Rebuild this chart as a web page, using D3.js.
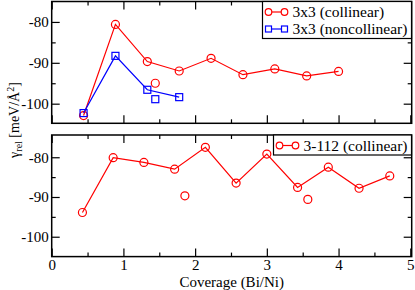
<!DOCTYPE html>
<html>
<head>
<meta charset="utf-8">
<script src="https://cdn.jsdelivr.net/npm/d3@7"></script>
<style>
  body { margin: 0; background: #fff; }
  svg text { font-family: "Liberation Serif", "Times New Roman", serif; }
  .tick line { stroke: #000; stroke-width: 1.2; }
  .domain { display: none; }
</style>
</head>
<body>
<div id="chart"></div>
<script>
// top panel, 3x3 cell
var cov3x3 = [4/9, 8/9, 12/9, 16/9, 20/9, 24/9, 28/9, 32/9, 36/9];
var col3x3 = [-102.9, -80.6, -89.7, -92.0, -88.9, -92.9, -91.5, -93.2, -92.1];
var covNc3x3 = [4/9, 8/9, 12/9, 16/9];
var nc3x3 = [-102.3, -88.3, -96.6, -98.4];
// lone points (not joined)
var loneCol3x3 = [{x: 13/9, y: -95.0}];
var loneNc3x3 = [{x: 13/9, y: -98.9}];

// bottom panel, 3-112 cell
var cov3112 = [3/7, 6/7, 9/7, 12/7, 15/7, 18/7, 21/7, 24/7, 27/7, 30/7, 33/7];
var col3112 = [-93.9, -80.1, -81.3, -83.0, -77.5, -86.5, -79.2, -87.6, -82.5, -87.8, -84.7];
var loneCol3112 = [{x: 13/7, y: -89.7}, {x: 25/7, y: -90.6}];

var xTicks = [0, 1, 2, 3, 4, 5];
var xMinor = [0.5, 1.5, 2.5, 3.5, 4.5];
var yTicks = [-100, -90, -80];
var yMinor = [-95, -85];

var W = 415, H = 290;
var left = 51.7, right = 411.7;
var RED = "#ff0000", BLUE = "#0000ff";

var svg = d3.select("#chart").append("svg")
    .attr("width", W).attr("height", H);

var x = d3.scaleLinear().domain([0, 5.02]).range([left, right]);

function zip(xs, ys) {
    return xs.map(function(v, i) { return {x: v, y: ys[i]}; });
}

function panel(top, bottom, yDomain, showXLabels) {
    var y = d3.scaleLinear().domain(yDomain).range([bottom, top]);
    var g = svg.append("g");

    // ticks on all four sides, pointing in
    g.append("g").attr("transform", "translate(0," + bottom + ")")
        .call(d3.axisBottom(x).tickValues(xTicks).tickSize(-8).tickPadding(3)
            .tickFormat(showXLabels ? d3.format("d") : ""));
    g.append("g").attr("transform", "translate(0," + bottom + ")")
        .call(d3.axisBottom(x).tickValues(xMinor).tickSize(-4).tickFormat(""));
    g.append("g").attr("transform", "translate(0," + top + ")")
        .call(d3.axisTop(x).tickValues(xTicks).tickSize(-8).tickFormat(""));
    g.append("g").attr("transform", "translate(0," + top + ")")
        .call(d3.axisTop(x).tickValues(xMinor).tickSize(-4).tickFormat(""));
    g.append("g").attr("transform", "translate(" + left + ",0)")
        .call(d3.axisLeft(y).tickValues(yTicks).tickSize(-8).tickPadding(3)
            .tickFormat(function(d) { return "-" + Math.abs(d); }));
    g.append("g").attr("transform", "translate(" + left + ",0)")
        .call(d3.axisLeft(y).tickValues(yMinor).tickSize(-4).tickFormat(""));
    g.append("g").attr("transform", "translate(" + right + ",0)")
        .call(d3.axisRight(y).tickValues(yTicks).tickSize(-8).tickFormat(""));
    g.append("g").attr("transform", "translate(" + right + ",0)")
        .call(d3.axisRight(y).tickValues(yMinor).tickSize(-4).tickFormat(""));

    g.selectAll(".tick text")
        .style("font-size", "15px")
        .style("fill", "#000");

    g.append("rect")
        .attr("x", left).attr("y", top)
        .attr("width", right - left).attr("height", bottom - top)
        .attr("fill", "none").attr("stroke", "#000").attr("stroke-width", 1.5);

    return {g: g, y: y};
}

function series(p, pts, color, shape, joined) {
    var line = d3.line().x(function(d) { return x(d.x); }).y(function(d) { return p.y(d.y); });
    if (joined) {
        p.g.append("path").datum(pts)
            .attr("d", line)
            .attr("fill", "none").attr("stroke", color).attr("stroke-width", 1.2);
    }
    if (shape === "circle") {
        p.g.selectAll(null).data(pts).enter().append("circle")
            .attr("cx", function(d) { return x(d.x); })
            .attr("cy", function(d) { return p.y(d.y); })
            .attr("r", 4)
            .attr("fill", "none").attr("stroke", color).attr("stroke-width", 1.2);
    } else {
        p.g.selectAll(null).data(pts).enter().append("rect")
            .attr("x", function(d) { return x(d.x) - 3.5; })
            .attr("y", function(d) { return p.y(d.y) - 3.5; })
            .attr("width", 7).attr("height", 7)
            .attr("fill", "none").attr("stroke", color).attr("stroke-width", 1.2);
    }
}

function legend(g, x0, y0, w, items) {
    var h = items.length * 17 + 3;
    g.append("rect")
        .attr("x", x0).attr("y", y0).attr("width", w).attr("height", h)
        .attr("fill", "#fff").attr("stroke", "#000").attr("stroke-width", 1.2);
    items.forEach(function(it, i) {
        var cy = y0 + 10.5 + i * 17;
        var a = x0 + 6, b = x0 + 22;
        g.append("line").attr("x1", a).attr("x2", b).attr("y1", cy).attr("y2", cy)
            .attr("stroke", it.color).attr("stroke-width", 1.2);
        [a, b].forEach(function(cx) {
            if (it.shape === "circle") {
                g.append("circle").attr("cx", cx).attr("cy", cy).attr("r", 3.3)
                    .attr("fill", "#fff").attr("stroke", it.color).attr("stroke-width", 1.2);
            } else {
                g.append("rect").attr("x", cx - 3).attr("y", cy - 3).attr("width", 6).attr("height", 6)
                    .attr("fill", "#fff").attr("stroke", it.color).attr("stroke-width", 1.2);
            }
        });
        g.append("text").attr("x", x0 + 30).attr("y", cy + 5)
            .style("font-size", "15.5px").text(it.label);
    });
}

// top panel
var p1 = panel(1.5, 123.3, [-104.8, -75]);
series(p1, zip(cov3x3, col3x3), RED, "circle", true);
series(p1, zip(covNc3x3, nc3x3), BLUE, "square", true);
series(p1, loneCol3x3, RED, "circle", false);
series(p1, loneNc3x3, BLUE, "square", false);
legend(p1.g, 262.5, 1.5, 149, [
    {label: "3x3 (collinear)", color: RED, shape: "circle"},
    {label: "3x3 (noncollinear)", color: BLUE, shape: "square"}
]);

// bottom panel
var p2 = panel(135, 256.6, [-105, -74.4], true);
series(p2, zip(cov3112, col3112), RED, "circle", true);
series(p2, loneCol3112, RED, "circle", false);
legend(p2.g, 273.5, 135, 138, [
    {label: "3-112 (collinear)", color: RED, shape: "circle"}
]);

// axis titles
svg.append("text")
    .attr("x", (left + right) / 2).attr("y", 287)
    .attr("text-anchor", "middle")
    .style("font-size", "15px")
    .text("Coverage (Bi/Ni)");

var yl = svg.append("text")
    .attr("transform", "translate(19,120) rotate(-90)")
    .attr("text-anchor", "middle")
    .style("font-size", "14px");
yl.append("tspan").text("γ");
yl.append("tspan").attr("baseline-shift", "-30%").style("font-size", "10px").text("rel");
yl.append("tspan").text(" [meV/Å");
yl.append("tspan").attr("baseline-shift", "50%").style("font-size", "10px").text("2");
yl.append("tspan").text("]");
</script>
</body>
</html>
